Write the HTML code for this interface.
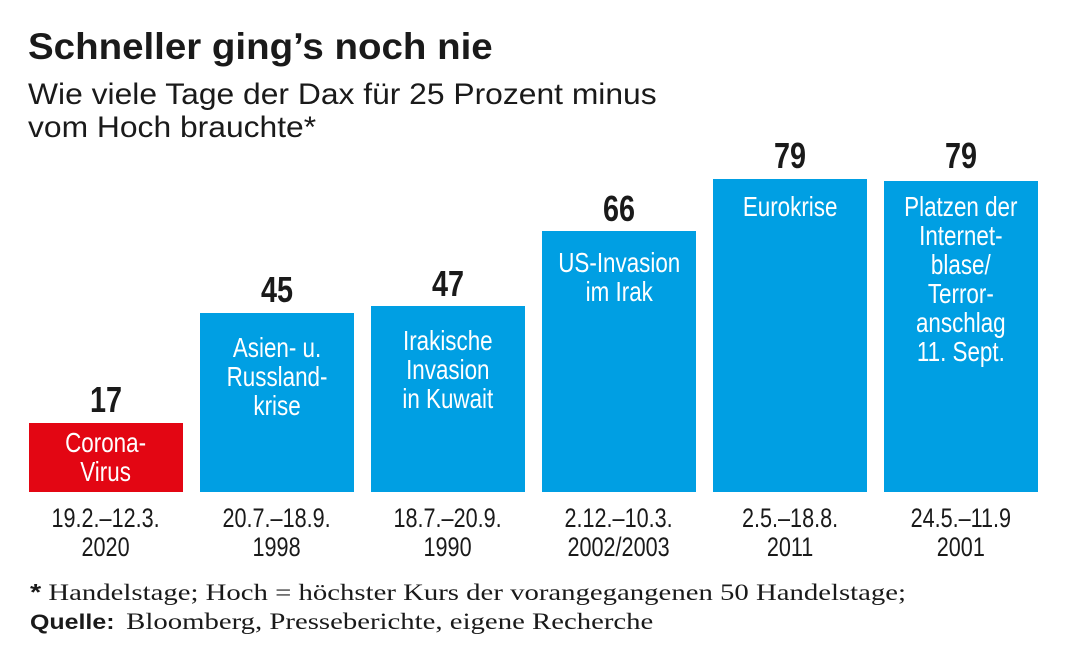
<!DOCTYPE html><html><head><style>
body{margin:0;width:1067px;height:670px;background:#fff;position:relative;overflow:hidden;font-family:"Liberation Sans",sans-serif;color:#1a1a1a}
.a{position:absolute}
.c{display:inline-block;transform:scaleX(0.8);transform-origin:center top;white-space:nowrap}
.bar{position:absolute;width:154px;bottom:178px;background:#009fe3}
.v{position:absolute;width:154px;text-align:center;font-weight:bold;font-size:36px;line-height:34px}
.l{position:absolute;width:154px;text-align:center;color:#fff;font-size:28px;line-height:29px}
.d{position:absolute;width:154px;text-align:center;font-size:27px;line-height:29px;top:504px}
.f{font-family:"Liberation Serif",serif;font-size:23px;left:30px}
</style></head><body>
<div class="a" style="left:28px;top:26px;font-size:37px;font-weight:bold;line-height:42px"><span class="c" style="transform-origin:left top;transform:scaleX(1.04)">Schneller ging’s noch nie</span></div>
<div class="a" style="left:28px;top:78px;font-size:30px;line-height:33px"><span class="c" style="transform-origin:left top;transform:scaleX(1.06)">Wie viele Tage der Dax für 25 Prozent minus<br>vom Hoch brauchte*</span></div>

<div class="bar" style="left:29px;top:423px;background:#e30613"></div>
<div class="bar" style="left:200px;top:313px"></div>
<div class="bar" style="left:371px;top:306px"></div>
<div class="bar" style="left:542px;top:231px"></div>
<div class="bar" style="left:713px;top:179px"></div>
<div class="bar" style="left:884px;top:181px"></div>

<div class="v" style="left:29px;top:383px"><span class="c">17</span></div>
<div class="v" style="left:200px;top:273px"><span class="c">45</span></div>
<div class="v" style="left:371px;top:267px"><span class="c">47</span></div>
<div class="v" style="left:542px;top:192px"><span class="c">66</span></div>
<div class="v" style="left:713px;top:139px"><span class="c">79</span></div>
<div class="v" style="left:884px;top:139px"><span class="c">79</span></div>

<div class="l" style="left:29px;top:428px"><span class="c">Corona-<br>Virus</span></div>
<div class="l" style="left:200px;top:333px"><span class="c">Asien- u.<br>Russland-<br>krise</span></div>
<div class="l" style="left:371px;top:326px"><span class="c">Irakische<br>Invasion<br>in Kuwait</span></div>
<div class="l" style="left:542px;top:248px"><span class="c">US-Invasion<br>im Irak</span></div>
<div class="l" style="left:713px;top:192px"><span class="c">Eurokrise</span></div>
<div class="l" style="left:884px;top:192px"><span class="c">Platzen der<br>Internet-<br>blase/<br>Terror-<br>anschlag<br>11. Sept.</span></div>

<div class="d" style="left:29px"><span class="c">19.2.–12.3.<br>2020</span></div>
<div class="d" style="left:200px"><span class="c">20.7.–18.9.<br>1998</span></div>
<div class="d" style="left:371px"><span class="c">18.7.–20.9.<br>1990</span></div>
<div class="d" style="left:542px"><span class="c">2.12.–10.3.<br>2002/2003</span></div>
<div class="d" style="left:713px"><span class="c">2.5.–18.8.<br>2011</span></div>
<div class="d" style="left:884px"><span class="c">24.5.–11.9<br>2001</span></div>

<div class="a f" style="top:578px;line-height:29px;transform:scaleX(1.25);transform-origin:left top;white-space:nowrap"><b style="font-family:'Liberation Sans',sans-serif">*</b> Handelstage; Hoch = höchster Kurs der vorangegangenen 50 Handelstage;<br><b style="font-family:'Liberation Sans',sans-serif;font-size:21px;display:inline-block;transform:scaleX(0.95);transform-origin:left">Quelle:</b> Bloomberg, Presseberichte, eigene Recherche</div>
</body></html>
